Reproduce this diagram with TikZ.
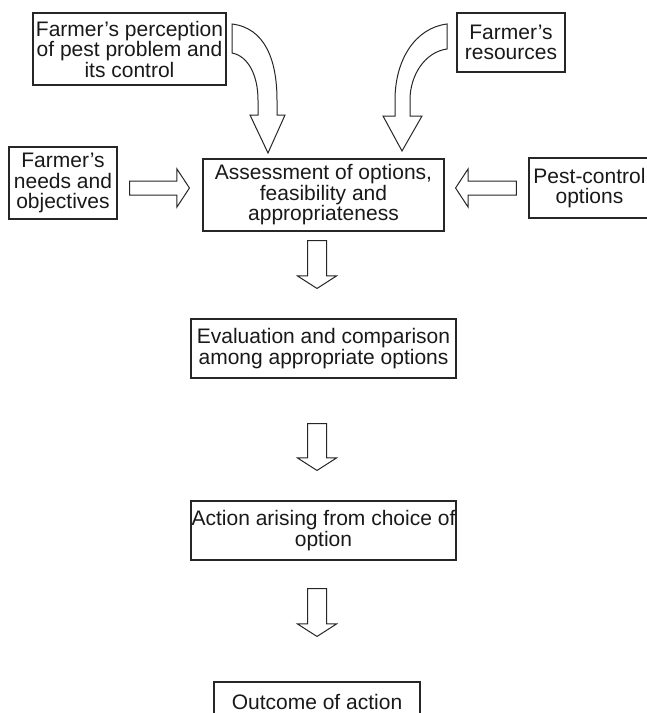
\documentclass[tikz,border=0pt]{standalone}
\usepackage{fontspec}
\setmainfont{Liberation Sans}
\usetikzlibrary{calc}

% straight block arrow: start, tip, shaft half-width, head half-width
\newcommand{\blockarrow}[4]{%
  \coordinate (hb) at ($(#2)!12.5pt!(#1)$);
  \draw[blk] ($(#1)!#3!90:(#2)$) -- ($(hb)!#3!90:(#2)$) -- ($(hb)!#4!90:(#2)$) -- (#2)
    -- ($(hb)!#4!-90:(#2)$) -- ($(hb)!#3!-90:(#2)$) -- ($(#1)!#3!-90:(#2)$) -- cycle;}

\tikzset{
  box/.style={draw=black!85, line width=1.1pt, inner sep=0pt, align=center,
    font=\fontsize{21}{20.5}\selectfont, text=black!90},
  blk/.style={draw=black!85, line width=1pt, line join=miter, fill=white}
}

\begin{document}
\begin{tikzpicture}[x=1pt, y=-1pt]
\useasboundingbox (0,0) rectangle (646,713);

% boxes
\node[box, minimum width=193pt, minimum height=72pt] (perc) at (129.5,49)
  {Farmer’s perception\\of pest problem and\\its control};
\node[box, minimum width=108pt, minimum height=59pt] (res) at (511,42.5)
  {Farmer’s\\resources};
\node[box, minimum width=108pt, minimum height=72pt] (needs) at (63,183)
  {Farmer’s\\needs and\\objectives};
\node[box, minimum width=241pt, minimum height=72pt] (assess) at (323.5,195)
  {Assessment of options,\\feasibility and\\appropriateness};
\node[box, minimum width=121pt, minimum height=60pt] (pest) at (589.5,188)
  {Pest-control\\options};
\node[box, minimum width=265pt, minimum height=59pt] (eval) at (323.5,348.5)
  {Evaluation and comparison\\among appropriate options};
\node[box, minimum width=265pt, minimum height=59pt] (action) at (323.5,530.5)
  {Action arising from choice of\\option};
\node[box, minimum width=206pt, minimum height=40pt] (outcome) at (317,702)
  {Outcome of action};

% curved block arrow from the perception box
\draw[blk] (232,24) .. controls (265,28) and (277,60) .. (277,100) -- (277,115)
  -- (285,115) -- (268,153) -- (250,115) -- (258,115) -- (258,100)
  .. controls (258,75) and (248,56) .. (232,53) -- cycle;

% curved block arrow from the resources box
\draw[blk] (447,24) .. controls (415,28) and (395,60) .. (395,100) -- (395,116)
  -- (383,116) -- (402,151) -- (422,116) -- (410,116) -- (410,100)
  .. controls (410,75) and (425,52) .. (447,49) -- cycle;

% side arrows into the assessment box
\coordinate (n1) at ($(needs.east |- pest.west)+(12,0)$);
\coordinate (n2) at ($(assess.west |- pest.west)+(-13,0)$);
\blockarrow{n1}{n2}{7pt}{19pt}
\coordinate (p1) at ($(pest.west)+(-12,0)$);
\coordinate (p2) at ($(assess.east |- pest.west)+(11,0)$);
\blockarrow{p1}{p2}{7pt}{19pt}

% downward arrows
\coordinate (d1s) at ($(assess.south)+(-6.5,9)$);
\coordinate (d1e) at ($(eval.north)+(-6.5,-30)$);
\blockarrow{d1s}{d1e}{9.5pt}{19.5pt}
\coordinate (d2s) at ($(eval.south)+(-6.5,45)$);
\coordinate (d2e) at ($(action.north)+(-6.5,-30)$);
\blockarrow{d2s}{d2e}{9.5pt}{19.5pt}
\coordinate (d3s) at ($(action.south)+(-6.5,28)$);
\coordinate (d3e) at ($(outcome.north)+(0,-45)$);
\blockarrow{d3s}{d3e}{9.5pt}{19.5pt}
\end{tikzpicture}
\end{document}
